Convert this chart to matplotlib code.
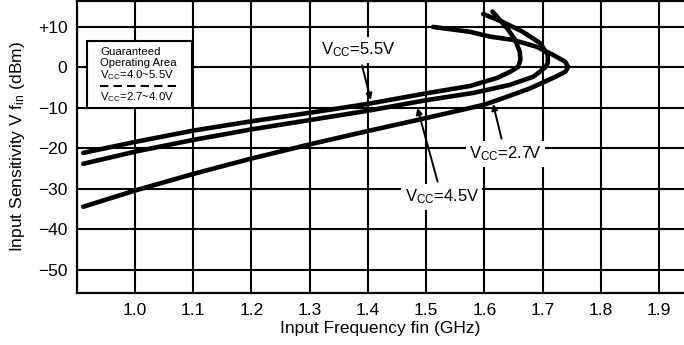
import matplotlib
matplotlib.use("Agg")
import matplotlib.pyplot as plt
from matplotlib.patches import Rectangle

plt.rcParams['font.family'] = ['Liberation Sans', 'DejaVu Sans']
plt.rcParams['mathtext.fontset'] = 'custom'
plt.rcParams['mathtext.rm'] = 'Liberation Sans'
plt.rcParams['mathtext.it'] = 'Liberation Sans:italic'

# ---- data ----
freq_27 = [0.911, 1.000, 1.100, 1.200, 1.300, 1.400, 1.500, 1.600, 1.632, 1.678, 1.718,
           1.739, 1.744, 1.739, 1.718, 1.690, 1.649, 1.610, 1.575, 1.512]
dbm_27 = [-34.4, -30.4, -26.3, -22.5, -19.0, -15.7, -12.5, -9.2, -7.6, -5.2, -2.6,
          -1.1, 0.1, 1.4, 3.1, 5.1, 6.8, 7.6, 8.8, 10.0]

freq_45 = [0.911, 1.000, 1.100, 1.200, 1.300, 1.400, 1.500, 1.581, 1.644, 1.684, 1.704,
           1.709, 1.709, 1.696, 1.666, 1.632, 1.598]
dbm_45 = [-23.8, -20.8, -17.9, -15.3, -13.0, -10.7, -8.1, -6.3, -4.3, -2.3, -0.1,
          1.1, 3.1, 6.0, 8.8, 11.2, 13.2]

freq_55 = [0.911, 1.000, 1.100, 1.200, 1.300, 1.400, 1.500, 1.575, 1.622, 1.644, 1.658,
           1.662, 1.661, 1.653, 1.641, 1.627, 1.614]
dbm_55 = [-21.1, -18.4, -15.6, -13.3, -11.2, -9.0, -6.4, -4.6, -2.6, -1.1, 0.1,
          1.9, 3.8, 6.8, 9.3, 11.7, 13.8]

x_ticks = [1.0, 1.1, 1.2, 1.3, 1.4, 1.5, 1.6, 1.7, 1.8, 1.9]
x_tick_labels = ["1.0", "1.1", "1.2", "1.3", "1.4", "1.5", "1.6", "1.7", "1.8", "1.9"]
y_ticks = [-50, -40, -30, -20, -10, 0, 10]
y_tick_labels = ["\u221250", "\u221240", "\u221230", "\u221220", "\u221210", "0", "+10"]

curve_labels = [r"V$_{\rm CC}$=2.7V", r"V$_{\rm CC}$=4.5V", r"V$_{\rm CC}$=5.5V"]

# ---- figure ----
fig = plt.figure(figsize=(6.84, 3.45), dpi=100)
ax = fig.add_axes([77/684, 52/345, 1 - 77/684, 292/345])
ax.set_xlim(0.9003, 1.943)
ax.set_ylim(-55.7, 16.4)

ax.set_xticks(x_ticks)
ax.set_xticklabels(x_tick_labels)
ax.set_yticks(y_ticks)
ax.set_yticklabels(y_tick_labels)
ax.tick_params(length=0, labelsize=12.5, pad=7, colors='black')
ax.grid(True, color='black', lw=1.5)
ax.set_axisbelow(True)
for s in ['left', 'bottom', 'top']:
    ax.spines[s].set_linewidth(1.6)
    ax.spines[s].set_color('black')
ax.spines['right'].set_visible(False)

ax.set_xlabel("Input Frequency fin (GHz)", fontsize=12.5, labelpad=2)
ax.set_ylabel(r"Input Sensitivity V f$_{\rm in}$ (dBm)", fontsize=12.5, labelpad=8)

lw = 3.3
for fx, dy in [(freq_27, dbm_27), (freq_45, dbm_45), (freq_55, dbm_55)]:
    ax.plot(fx, dy, color='black', lw=lw, solid_capstyle='round',
            solid_joinstyle='round', zorder=3)

# curve annotations
bbox = dict(boxstyle='square,pad=0.2', fc='white', ec='none')
arrow = dict(arrowstyle='-|>', lw=1.4, color='black', mutation_scale=9, shrinkB=0)
ax.annotate(curve_labels[2], xy=(1.405, -8.0), xytext=(1.383, 4.3),
            ha='center', va='center', fontsize=12, bbox=bbox, arrowprops=arrow, zorder=5)
ax.annotate(curve_labels[0], xy=(1.615, -9.0), xytext=(1.636, -21.4),
            ha='center', va='center', fontsize=12, bbox=bbox, arrowprops=arrow, zorder=5)
ax.annotate(curve_labels[1], xy=(1.485, -10.0), xytext=(1.527, -32.0),
            ha='center', va='center', fontsize=12, bbox=bbox, arrowprops=arrow, zorder=5)

# guaranteed operating area box
ax.add_patch(Rectangle((0.9175, -10.0), 1.098 - 0.9175, 6.5 + 10.0,
                       fc='white', ec='black', lw=1.5, zorder=4))
tx = 0.9397
ax.text(tx, 3.1, "Guaranteed", fontsize=8.2, va='baseline', zorder=5)
ax.text(tx, 0.4, "Operating Area", fontsize=8.2, va='baseline', zorder=5)
ax.text(tx, -2.6, r"V$_{\rm CC}$=4.0~5.5V", fontsize=8.2, va='baseline', zorder=5)
ax.plot([0.9397, 1.0788], [-4.6, -4.6], color='black', lw=1.5, ls=(0, (4, 2.5)), zorder=5)
ax.text(tx, -8.2, r"V$_{\rm CC}$=2.7~4.0V", fontsize=8.2, va='baseline', zorder=5)

fig.savefig("out.png", dpi=100)
